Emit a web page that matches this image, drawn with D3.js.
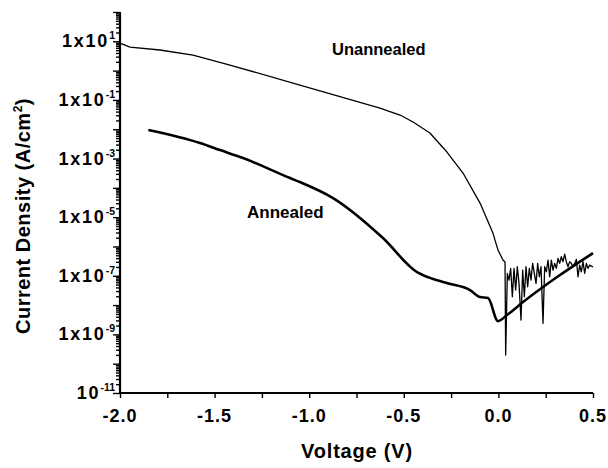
<!DOCTYPE html>
<html>
<head>
<meta charset="utf-8">
<script src="https://cdn.jsdelivr.net/npm/d3@7"></script>
<style>
  body { margin: 0; background: #fff; }
  svg { display: block; font-family: "Liberation Sans", Arial, Helvetica, sans-serif; font-weight: bold; }
</style>
</head>
<body>
<div id="chart"></div>
<script>
// values: voltage (V) and log10 of current density (A/cm^2)
const unannealedV = [-2.00, -1.947, -1.789, -1.614, -1.419, -1.049, -0.626, -0.520, -0.451, -0.362, -0.272, -0.187, -0.097, -0.029, -0.002, 0.024, 0.035,
    0.0384, 0.0472, 0.0560, 0.0649, 0.0737, 0.0825, 0.0913, 0.1001, 0.1089, 0.1195, 0.1283, 0.1371, 0.1459, 0.1547, 0.1635, 0.1723, 0.1811, 0.1899,
    0.1988, 0.2076, 0.2164, 0.2252, 0.2358, 0.2446, 0.2534, 0.2622, 0.2710, 0.2798, 0.2886, 0.2974, 0.3063, 0.3151, 0.3239, 0.3327, 0.3415, 0.3503,
    0.3591, 0.3679, 0.3767, 0.3856, 0.3944, 0.4032, 0.4120, 0.4208, 0.4296, 0.4384, 0.4472, 0.4560, 0.4649, 0.4737, 0.4825, 0.4913, 0.500];
const unannealedLogJ = [0.94, 0.805, 0.703, 0.532, 0.191, -0.491, -1.276, -1.515, -1.754, -2.130, -2.778, -3.495, -4.519, -5.543, -6.123, -6.464, -6.532,
    -9.706, -6.919, -7.146, -6.748, -7.715, -6.748, -7.488, -6.691, -7.260, -8.512, -6.805, -7.715, -6.691, -7.374, -6.748, -7.146, -6.578, -6.919,
    -7.260, -6.578, -7.033, -6.691, -8.625, -6.691, -6.862, -6.464, -7.033, -6.464, -6.805, -6.578, -6.748, -6.407, -6.578, -6.350, -6.521, -6.259,
    -6.521, -6.691, -6.521, -6.578, -6.691, -6.578, -6.441, -7.033, -6.635, -6.862, -6.521, -6.919, -6.578, -6.748, -6.635, -6.669, -6.70];

const annealedV = [-1.850, -1.577, -1.471, -1.350, -1.101, -1.049, -0.874, -0.610, -0.430, -0.399, -0.272, -0.150, -0.097, -0.055, -0.002, 0.045, 0.130, 0.310, 0.500];
const annealedLogJ = [-2.027, -2.471, -2.710, -2.983, -3.666, -3.802, -4.348, -5.713, -6.874, -6.976, -7.249, -7.488, -7.727, -7.761, -8.546, -8.341, -7.898, -7.044, -6.225];

const voltageTicks = [-2.0, -1.75, -1.5, -1.25, -1.0, -0.75, -0.5, -0.25, 0.0, 0.25, 0.5];
const voltageLabels = [-2.0, -1.5, -1.0, -0.5, 0.0, 0.5];
const decadeExponents = [-11, -10, -9, -8, -7, -6, -5, -4, -3, -2, -1, 0, 1, 2];
const labelExponents = [1, -1, -3, -5, -7, -9, -11];

const width = 608, height = 468;
const x = d3.scaleLinear().domain([-2.0, 0.5]).range([120, 593]);
const y = d3.scaleLog().domain([1e-11, 1e2]).range([393, 12]);

const svg = d3.select("#chart").append("svg")
    .attr("width", width)
    .attr("height", height);

// minor log ticks
const minorTicks = [];
decadeExponents.slice(0, -1).forEach(e => {
    for (let m = 2; m <= 9; m++) minorTicks.push(m * Math.pow(10, e));
});

const yMinor = svg.append("g")
    .attr("transform", "translate(" + x(-2.0) + ",0)")
    .call(d3.axisLeft(y).tickValues(minorTicks).tickSize(4).tickFormat(""));
const yMajor = svg.append("g")
    .attr("transform", "translate(" + x(-2.0) + ",0)")
    .call(d3.axisLeft(y).tickValues(decadeExponents.map(e => Math.pow(10, e))).tickSize(7).tickFormat(""));

const xAxis = svg.append("g")
    .attr("transform", "translate(0," + y(1e-11) + ")")
    .call(d3.axisBottom(x).tickValues(voltageTicks).tickSize(5).tickFormat(""));

[yMinor, yMajor, xAxis].forEach(g => {
    g.selectAll("line").attr("stroke", "#000").attr("stroke-width", 1.4);
    g.select(".domain").remove();
});

svg.append("line")
    .attr("x1", x(-2.0)).attr("x2", x(-2.0))
    .attr("y1", y(1e2)).attr("y2", y(1e-11) + 1)
    .attr("stroke", "#000").attr("stroke-width", 2.2);
svg.append("line")
    .attr("x1", x(-2.0) - 1).attr("x2", x(0.5))
    .attr("y1", y(1e-11)).attr("y2", y(1e-11))
    .attr("stroke", "#000").attr("stroke-width", 2);

// y tick labels
labelExponents.forEach(e => {
    const t = svg.append("text")
        .attr("x", 115)
        .attr("y", y(Math.pow(10, e)) + 6)
        .attr("text-anchor", "end")
        .style("font-size", "18px")
        .style("letter-spacing", "1.8px");
    t.append("tspan").text(e === -11 ? "10" : "1x10");
    t.append("tspan").attr("dy", -8).style("font-size", "10.5px").style("letter-spacing", "0px").text(e);
});

// x tick labels
svg.selectAll(".xlab").data(voltageLabels).enter().append("text")
    .attr("class", "xlab")
    .attr("x", d => x(d))
    .attr("y", 422)
    .attr("text-anchor", "middle")
    .style("font-size", "18px")
    .style("letter-spacing", "1px")
    .text(d => d3.format(".1f")(d).replace("−", "-"));

// axis titles
svg.append("text")
    .attr("x", 357).attr("y", 458)
    .attr("text-anchor", "middle")
    .style("font-size", "20px")
    .style("letter-spacing", "0.8px")
    .text("Voltage (V)");

const yTitle = svg.append("text")
    .attr("transform", "translate(30,216) rotate(-90)")
    .attr("text-anchor", "middle")
    .style("font-size", "20px")
    .style("letter-spacing", "0.5px");
yTitle.append("tspan").text("Current Density (A/cm");
yTitle.append("tspan").attr("dy", -8).style("font-size", "12px").text("2");
yTitle.append("tspan").attr("dy", 8).text(")");

// curves
const line = d3.line()
    .x(d => x(d[0]))
    .y(d => y(Math.pow(10, d[1])));

svg.append("path")
    .datum(unannealedV.map((v, i) => [v, unannealedLogJ[i]]))
    .attr("fill", "none")
    .attr("stroke", "#000")
    .attr("stroke-width", 1.3)
    .attr("stroke-linejoin", "round")
    .attr("d", line);

svg.append("path")
    .datum(annealedV.map((v, i) => [v, annealedLogJ[i]]))
    .attr("fill", "none")
    .attr("stroke", "#000")
    .attr("stroke-width", 2.6)
    .attr("stroke-linejoin", "round")
    .attr("d", line.curve(d3.curveMonotoneX));

// curve labels
svg.append("text")
    .attr("x", 332).attr("y", 55)
    .style("font-size", "16.5px")
    .text("Unannealed");
svg.append("text")
    .attr("x", 247).attr("y", 218)
    .style("font-size", "17px")
    .text("Annealed");
</script>
</body>
</html>
